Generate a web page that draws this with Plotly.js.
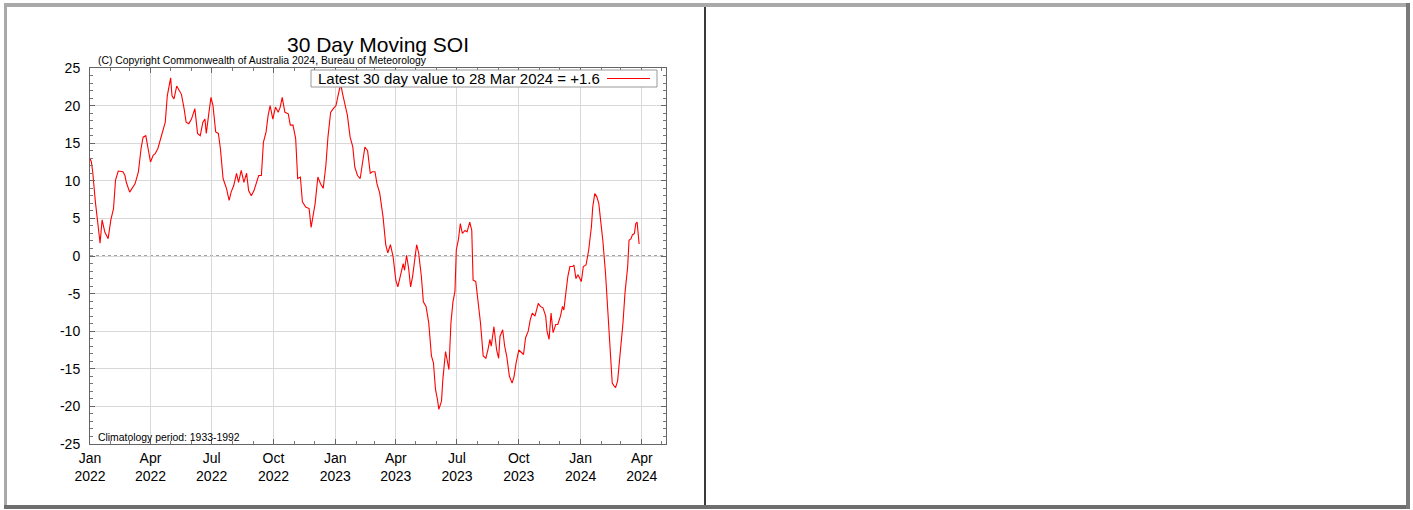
<!DOCTYPE html>
<html>
<head>
<meta charset="utf-8">
<script src="https://cdn.plot.ly/plotly-3.0.1.min.js"></script>
<style>
  html, body { margin: 0; padding: 0; background: #ffffff; }
  #wrap { position: relative; width: 1413px; height: 510px; overflow: hidden; }
  #chart { position: absolute; left: 0; top: 0; width: 1413px; height: 510px; }
  .fr { position: absolute; }
</style>
</head>
<body>
<div id="wrap">
  <div id="chart"></div>
  <div class="fr" style="left:4px;top:3px;width:1406px;height:4px;background:#a9a9a9;"></div>
  <div class="fr" style="left:4px;top:3px;width:3px;height:505px;background:#a9a9a9;"></div>
  <div class="fr" style="left:4px;top:505px;width:1406px;height:4px;background:#6e6e6e;"></div>
  <div class="fr" style="left:1406px;top:3px;width:4px;height:506px;background:#7a7a7a;"></div>
  <div class="fr" style="left:704px;top:7px;width:2px;height:498px;background:#3a3a3a;"></div>
</div>
<script>
// 30-day moving SOI
const dates = [
  "2022-01-01","2022-01-03","2022-01-05","2022-01-08","2022-01-09","2022-01-16","2022-01-19","2022-01-23","2022-01-28",
  "2022-02-01","2022-02-05","2022-02-08","2022-02-12","2022-02-19","2022-02-22","2022-02-24",
  "2022-03-01","2022-03-09","2022-03-14","2022-03-18","2022-03-21","2022-03-25","2022-03-28",
  "2022-04-01","2022-04-05","2022-04-08","2022-04-12","2022-04-16","2022-04-20","2022-04-23","2022-04-26",
  "2022-05-01","2022-05-03","2022-05-06","2022-05-10","2022-05-14","2022-05-17","2022-05-21","2022-05-24","2022-05-28",
  "2022-06-01","2022-06-06","2022-06-10","2022-06-14","2022-06-18","2022-06-21","2022-06-23","2022-06-27","2022-06-30",
  "2022-07-03","2022-07-07","2022-07-11","2022-07-14","2022-07-18","2022-07-23","2022-07-27","2022-07-30",
  "2022-08-03","2022-08-07","2022-08-10","2022-08-14","2022-08-18","2022-08-22","2022-08-25","2022-08-29",
  "2022-09-02","2022-09-06","2022-09-09","2022-09-13","2022-09-16","2022-09-20","2022-09-23","2022-09-26","2022-09-30",
  "2022-10-04","2022-10-08","2022-10-11","2022-10-14","2022-10-18","2022-10-23","2022-10-26","2022-10-30",
  "2022-11-03","2022-11-06","2022-11-10","2022-11-13","2022-11-18","2022-11-23","2022-11-26","2022-11-29",
  "2022-12-02","2022-12-06","2022-12-10","2022-12-14","2022-12-18","2022-12-21","2022-12-25","2022-12-29",
  "2023-01-02","2023-01-05","2023-01-09","2023-01-12","2023-01-15","2023-01-19","2023-01-23","2023-01-27","2023-01-30",
  "2023-02-03","2023-02-07","2023-02-11","2023-02-14","2023-02-18","2023-02-22","2023-02-25",
  "2023-03-01","2023-03-04","2023-03-08","2023-03-13","2023-03-17","2023-03-20","2023-03-24","2023-03-28",
  "2023-04-01","2023-04-04","2023-04-08","2023-04-12","2023-04-14","2023-04-17","2023-04-20","2023-04-23","2023-04-26",
  "2023-05-02","2023-05-05","2023-05-09","2023-05-12","2023-05-16","2023-05-20","2023-05-24","2023-05-27","2023-05-30",
  "2023-06-02","2023-06-04","2023-06-08","2023-06-10","2023-06-14","2023-06-17","2023-06-19","2023-06-22","2023-06-25","2023-06-28","2023-06-30",
  "2023-07-03","2023-07-06","2023-07-09","2023-07-13","2023-07-16","2023-07-20","2023-07-23","2023-07-25","2023-07-29",
  "2023-08-01","2023-08-05","2023-08-09","2023-08-13","2023-08-16","2023-08-19","2023-08-21","2023-08-25","2023-08-29",
  "2023-09-01","2023-09-03","2023-09-07","2023-09-10","2023-09-13","2023-09-17","2023-09-21","2023-09-24","2023-09-27",
  "2023-10-01","2023-10-05","2023-10-08","2023-10-11","2023-10-15","2023-10-18","2023-10-21","2023-10-25","2023-10-27","2023-10-30",
  "2023-11-02","2023-11-06","2023-11-10","2023-11-12","2023-11-15","2023-11-18","2023-11-21","2023-11-25","2023-11-28",
  "2023-12-02","2023-12-05","2023-12-07","2023-12-10","2023-12-13","2023-12-16","2023-12-20","2023-12-22","2023-12-25","2023-12-28","2023-12-31",
  "2024-01-02","2024-01-05","2024-01-09","2024-01-13","2024-01-17","2024-01-19","2024-01-22","2024-01-25","2024-01-28","2024-01-31",
  "2024-02-03","2024-02-07","2024-02-10","2024-02-12","2024-02-15","2024-02-17","2024-02-20","2024-02-22","2024-02-25","2024-02-27",
  "2024-03-01","2024-03-04","2024-03-07","2024-03-11","2024-03-13","2024-03-16","2024-03-18","2024-03-21","2024-03-23","2024-03-25","2024-03-28"
];
const soi = [
  13.0,12.5,11.2,7.7,7.2,1.7,4.8,3.2,2.3,
  4.8,6.3,10.1,11.3,11.2,10.7,9.8,
  8.5,9.6,11.2,14.3,15.8,16.0,14.7,
  12.5,13.4,13.6,14.3,15.6,16.7,17.8,21.3,
  23.7,21.3,20.9,22.6,22.0,21.5,19.6,17.8,17.6,
  18.2,19.6,16.3,16.0,17.8,18.2,16.3,19.1,21.1,
  20.0,16.5,16.3,14.3,10.3,9.0,7.4,8.5,
  9.4,11.0,9.8,11.4,9.8,11.0,8.7,8.0,
  8.7,9.8,10.7,10.7,15.1,16.5,18.7,20.0,18.2,
  19.8,19.1,19.8,21.1,19.1,18.9,17.4,17.4,
  15.6,10.3,10.5,7.2,6.5,6.3,3.8,5.4,
  7.0,10.5,9.6,9.0,12.1,15.8,19.1,19.6,
  20.0,21.3,22.9,21.5,20.4,18.7,15.8,14.5,11.8,
  10.7,10.3,12.9,14.5,14.0,11.0,11.2,
  11.2,9.6,8.4,5.2,1.5,0.4,1.5,-0.1,
  -3.2,-4.1,-2.3,-1.0,-1.9,0.1,-1.6,-4.1,-2.7,
  1.5,0.4,-2.7,-6.1,-6.7,-8.9,-13.3,-14.2,-17.7,
  -19.1,-20.4,-19.3,-16.4,-12.7,-14.2,-15.1,-8.9,-6.1,-4.7,0.8,
  2.1,4.3,3.0,3.4,3.2,4.5,3.4,-3.2,-3.4,
  -5.8,-8.9,-13.3,-13.6,-12.5,-11.1,-12.0,-9.4,-12.5,
  -13.6,-10.7,-9.8,-12.0,-13.3,-16.0,-16.9,-16.0,-14.2,
  -12.5,-12.9,-13.1,-10.9,-10.0,-8.5,-7.6,-8.0,-7.2,-6.3,
  -6.7,-6.9,-8.0,-10.0,-11.1,-7.6,-10.2,-9.1,-9.1,
  -8.0,-6.7,-7.2,-4.9,-2.7,-1.4,-1.4,-1.2,-3.0,-2.5,-3.2,
  -3.4,-1.4,-1.2,0.8,3.9,6.5,8.3,7.9,7.0,4.5,
  2.1,-2.3,-6.7,-10.7,-13.8,-16.9,-17.3,-17.5,-16.6,-14.7,
  -11.6,-8.9,-4.9,-1.4,2.1,2.3,2.8,3.0,4.3,4.5,1.6
];
const tickDates = ["2022-01-01","2022-04-01","2022-07-01","2022-10-01","2023-01-01","2023-04-01","2023-07-01","2023-10-01","2024-01-01","2024-04-01"];
const tickLabels = ["Jan<br>2022","Apr<br>2022","Jul<br>2022","Oct<br>2022","Jan<br>2023","Apr<br>2023","Jul<br>2023","Oct<br>2023","Jan<br>2024","Apr<br>2024"];
const yTickVals = [-25, -20, -15, -10, -5, 0, 5, 10, 15, 20, 25];
const yTickLabels = ["-25", "-20", "-15", "-10", "-5", "0", "5", "10", "15", "20", "25"];
const titleText = "30 Day Moving SOI";
const copyrightText = "(C) Copyright Commonwealth of Australia 2024, Bureau of Meteorology";
const legendText = "Latest 30 day value to 28 Mar 2024 = +1.6";
const climText = "Climatology period: 1933-1992";

const FONT = "'Liberation Sans', Arial, Helvetica, sans-serif";

// pixel -> paper helpers for the plot area (x 90..666, y 68..444)
const px = v => (v - 90) / 576;
const py = v => (444 - v) / 376;

const trace = {
  x: dates, y: soi, type: "scatter", mode: "lines",
  name: legendText,
  line: { color: "#ff0000", width: 1.1 },
  showlegend: false, hoverinfo: "x+y"
};

const layout = {
  width: 1413, height: 510,
  margin: { l: 90, r: 747, t: 68, b: 66, pad: 0 },
  paper_bgcolor: "rgba(0,0,0,0)", plot_bgcolor: "#ffffff",
  font: { family: FONT, size: 14, color: "#000000" },
  showlegend: false,
  title: { text: titleText, font: { family: FONT, size: 21, color: "#000000" },
           x: 378 / 1413, xanchor: "center", xref: "container",
           y: 1 - 45 / 510, yanchor: "middle", yref: "container" },
  xaxis: {
    type: "date", range: ["2022-01-01", "2024-05-07"],
    tickmode: "array", tickvals: tickDates, ticktext: tickLabels,
    ticks: "inside", ticklen: 5, tickcolor: "#666", tickwidth: 1,
    showgrid: true, gridcolor: "#d8d8d8", gridwidth: 1,
    showline: true, linecolor: "#666", linewidth: 1, mirror: "ticks",
    zeroline: false, tickfont: { family: FONT, size: 14, color: "#000" },
    ticklabelstandoff: 1,
    minor: { dtick: "M1", tick0: "2022-01-01", ticks: "inside", ticklen: 3, tickcolor: "#777", showgrid: false }
  },
  yaxis: {
    range: [-25, 25], tickmode: "array", tickvals: yTickVals, ticktext: yTickLabels,
    ticks: "inside", ticklen: 5, tickcolor: "#666",
    showgrid: true, gridcolor: "#d8d8d8", gridwidth: 1,
    showline: true, linecolor: "#666", linewidth: 1, mirror: "ticks",
    zeroline: false, tickfont: { family: FONT, size: 14, color: "#000" },
    ticklabelstandoff: 6,
    minor: { dtick: 1, tick0: 0, ticks: "inside", ticklen: 3, tickcolor: "#777", showgrid: false }
  },
  shapes: [
    { type: "line", xref: "paper", yref: "y", x0: 0, x1: 1, y0: 0, y1: 0,
      line: { color: "#444444", width: 1, dash: "dot" }, layer: "below" },
    // legend box (white, above the grid and curve)
    { type: "rect", xref: "paper", yref: "paper", x0: px(311), x1: px(657), y0: py(87), y1: py(70),
      fillcolor: "#ffffff", line: { color: "#999999", width: 1 }, layer: "above" },
    // legend sample line
    { type: "line", xref: "paper", yref: "paper",
      x0: px(607), x1: px(650), y0: py(78.5), y1: py(78.5),
      line: { color: "#ff0000", width: 1 }, layer: "above" }
  ],
  annotations: [
    { text: copyrightText, xref: "paper", yref: "paper", x: px(96), y: py(60),
      xanchor: "left", yanchor: "middle", showarrow: false,
      font: { family: FONT, size: 10.4, color: "#000" } },
    { text: climText, xref: "paper", yref: "paper", x: px(96), y: py(437),
      xanchor: "left", yanchor: "middle", showarrow: false,
      font: { family: FONT, size: 10.4, color: "#000" } },
    { text: legendText, xref: "paper", yref: "paper", x: px(316), y: py(78.5),
      xanchor: "left", yanchor: "middle", showarrow: false, align: "left",
      font: { family: FONT, size: 15, color: "#000" } }
  ]
};

Plotly.newPlot("chart", [trace], layout, { displayModeBar: false, staticPlot: true });
</script>
</body>
</html>
